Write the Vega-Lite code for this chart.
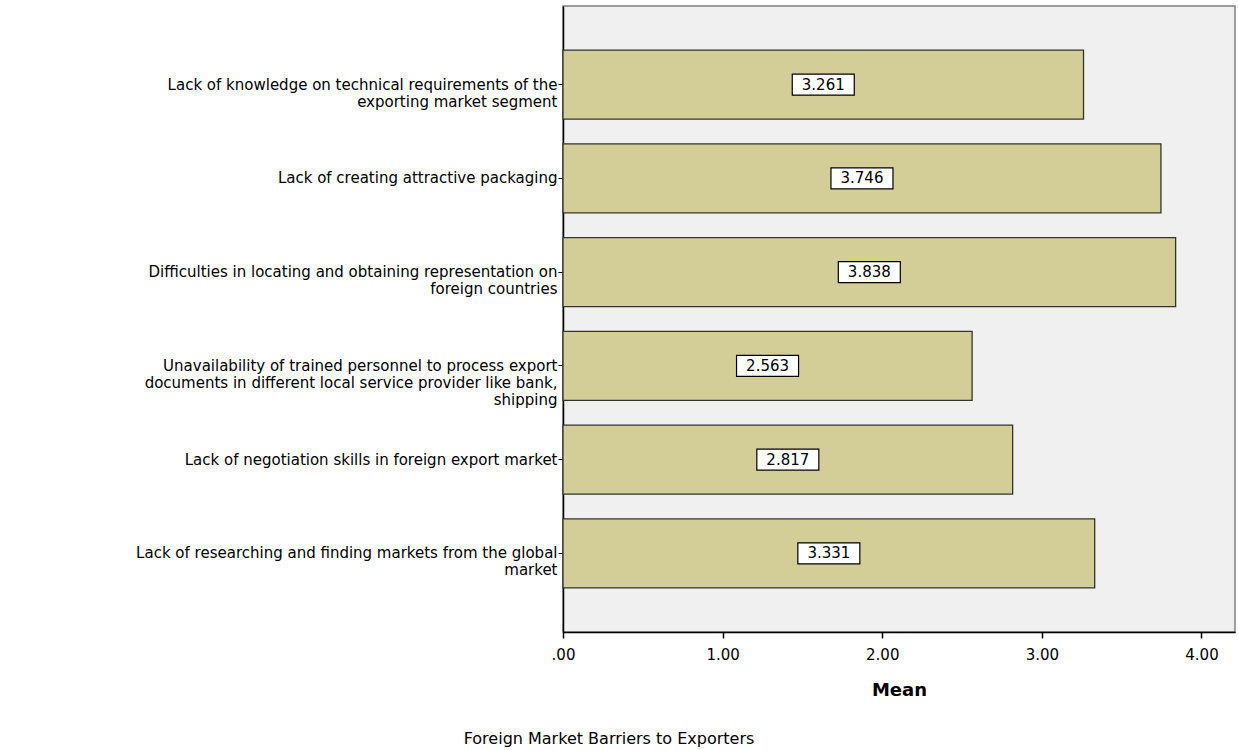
{
  "$schema": "https://vega.github.io/schema/vega-lite/v6.json",
  "width": 672,
  "height": 626,
  "autosize": {"type": "none"},
  "padding": {"left": 563, "top": 6, "right": 3, "bottom": 118},
  "background": "white",
  "config": {
    "view": {"fill": "#f0f0f0", "stroke": "#808080", "strokeWidth": 1.5},
    "font": "DejaVu Sans"
  },
  "title": {
    "text": "Foreign Market Barriers to Exporters",
    "orient": "bottom",
    "anchor": "middle",
    "dx": -290,
    "offset": 32,
    "fontSize": 16,
    "fontWeight": "normal",
    "font": "DejaVu Sans",
    "color": "#000000"
  },
  "data": {
    "values": [
      {"barrier": "Lack of knowledge on technical requirements of the|exporting market segment", "mean": 3.261},
      {"barrier": "Lack of creating attractive packaging", "mean": 3.746},
      {"barrier": "Difficulties in locating and obtaining representation on|foreign countries", "mean": 3.838},
      {"barrier": "Unavailability of trained  personnel to process export|documents in different local service provider like bank,|shipping", "mean": 2.563},
      {"barrier": "Lack of negotiation skills in foreign export market", "mean": 2.817},
      {"barrier": "Lack of researching and finding markets from the global|market", "mean": 3.331}
    ]
  },
  "transform": [{"calculate": "datum.mean / 2", "as": "mid"}],
  "encoding": {
    "y": {
      "field": "barrier",
      "type": "nominal",
      "sort": null,
      "scale": {"paddingInner": 0.264, "paddingOuter": 0.47},
      "axis": {
        "title": null,
        "domain": true,
        "domainColor": "#000000",
        "domainWidth": 1.5,
        "ticks": true,
        "tickColor": "#000000",
        "tickSize": 5,
        "labelExpr": "split(datum.label, '|')",
        "labelLimit": 0,
        "labelFont": "DejaVu Sans",
        "labelFontSize": 15,
        "labelLineHeight": 17,
        "labelColor": "#000000",
        "labelPadding": 1,
        "labelAlign": "right",
        "labelBaseline": "middle"
      }
    }
  },
  "layer": [
    {
      "mark": {"type": "bar", "fill": "#d3ce97", "stroke": "#333333", "strokeWidth": 1.3},
      "encoding": {
        "x": {
          "field": "mean",
          "type": "quantitative",
          "scale": {"domain": [0, 4.21], "nice": false, "zero": true},
          "axis": {
            "title": "Mean",
            "titleFont": "DejaVu Sans",
            "titleFontSize": 18,
            "titleFontWeight": "bold",
            "titleColor": "#000000",
            "titlePadding": 19,
            "values": [0, 1, 2, 3, 4],
            "labelExpr": "datum.value == 0 ? '.00' : format(datum.value, '.2f')",
            "labelFlush": false,
            "labelFont": "DejaVu Sans",
            "labelFontSize": 15,
            "labelColor": "#000000",
            "labelPadding": 9,
            "grid": false,
            "domainColor": "#000000",
            "domainWidth": 1.5,
            "tickColor": "#000000",
            "tickSize": 6,
            "tickWidth": 1.5
          }
        }
      }
    },
    {
      "mark": {
        "type": "point",
        "shape": "M-1,-0.34H1V0.34H-1Z",
        "filled": true,
        "fill": "#ffffff",
        "stroke": "#000000",
        "strokeWidth": 1.2,
        "size": 3844,
        "opacity": 1
      },
      "encoding": {"x": {"field": "mid", "type": "quantitative"}}
    },
    {
      "mark": {"type": "text", "font": "DejaVu Sans", "fontSize": 15, "color": "#000000"},
      "encoding": {
        "x": {"field": "mid", "type": "quantitative"},
        "text": {"field": "mean", "type": "quantitative", "format": ".3f"}
      }
    }
  ]
}
